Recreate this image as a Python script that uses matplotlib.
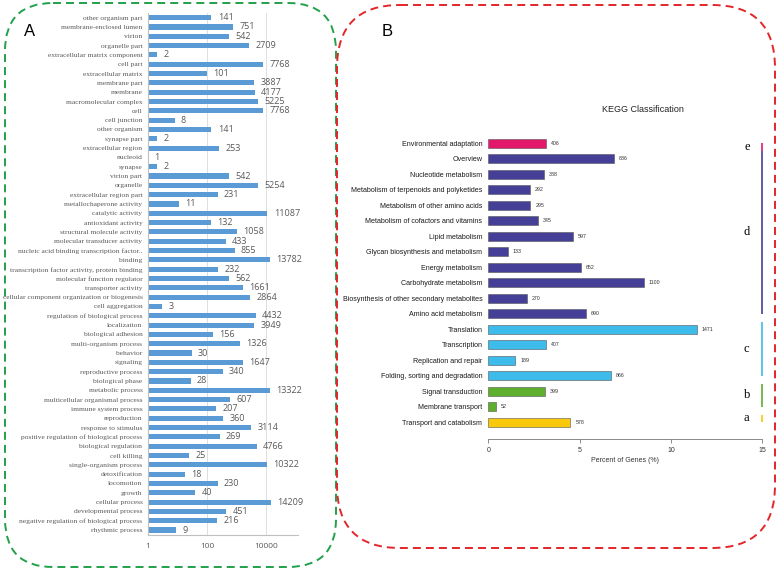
import matplotlib
matplotlib.use("Agg")
import matplotlib.pyplot as plt
import numpy as np
from matplotlib.patches import FancyBboxPatch
from matplotlib.ticker import NullLocator

# ---- Panel A: GO terms (gene counts, log axis) ----
go_terms = [
    "other organism part", "membrane-enclosed lumen", "virion", "organelle part",
    "extracellular matrix component", "cell part", "extracellular matrix", "membrane part",
    "membrane", "macromolecular complex", "cell", "cell junction", "other organism",
    "synapse part", "extracellular region", "nucleoid", "synapse", "virion part",
    "organelle", "extracellular region part", "metallochaperone activity",
    "catalytic activity", "antioxidant activity", "structural molecule activity",
    "molecular transducer activity", "nucleic acid binding transcription factor..",
    "binding", "transcription factor activity, protein binding",
    "molecular function regulator", "transporter activity",
    "cellular component organization or biogenesis", "cell aggregation",
    "regulation of biological process", "localization", "biological adhesion",
    "multi-organism process", "behavior", "signaling", "reproductive process",
    "biological phase", "metabolic process", "multicellular organismal process",
    "immune system process", "reproduction", "response to stimulus",
    "positive regulation of biological process", "biological regulation", "cell killing",
    "single-organism process", "detoxification", "locomotion", "growth",
    "cellular process", "developmental process",
    "negative regulation of biological process", "rhythmic process",
]
go_counts = [
    141, 751, 542, 2709, 2, 7768, 101, 3887, 4177, 5225, 7768, 8, 141, 2, 253, 1, 2,
    542, 5254, 231, 11, 11087, 132, 1058, 433, 855, 13782, 232, 562, 1661, 2864, 3,
    4432, 3949, 156, 1326, 30, 1647, 340, 28, 13322, 607, 207, 360, 3114, 269, 4766,
    25, 10322, 18, 230, 40, 14209, 451, 216, 9,
]
go_ticks = [1, 100, 10000]

# ---- Panel B: KEGG classification ----
kegg_terms = [
    "Environmental adaptation", "Overview", "Nucleotide metabolism",
    "Metabolism of terpenoids and polyketides", "Metabolism of other amino acids",
    "Metabolism of cofactors and vitamins", "Lipid metabolism",
    "Glycan biosynthesis and metabolism", "Energy metabolism", "Carbohydrate metabolism",
    "Biosynthesis of other secondary metabolites", "Amino acid metabolism",
    "Translation", "Transcription", "Replication and repair",
    "Folding, sorting and degradation", "Signal transduction", "Membrane transport",
    "Transport and catabolism",
]
kegg_percent = [3.16, 6.86, 3.03, 2.26, 2.30, 2.70, 4.64, 1.06, 5.06, 8.52,
                2.10, 5.36, 11.41, 3.17, 1.48, 6.72, 3.10, 0.42, 4.49]
kegg_counts = [406, 886, 388, 292, 295, 345, 597, 133, 652, 1100,
               270, 690, 1471, 407, 189, 866, 399, 52, 578]
kegg_group = ["e", "d", "d", "d", "d", "d", "d", "d", "d", "d",
              "d", "d", "c", "c", "c", "c", "b", "b", "a"]
group_letters = ["e", "d", "c", "b", "a"]
group_colors = {"e": "#E2196A", "d": "#463F98", "c": "#3DBBEA",
                "b": "#5FAE2E", "a": "#F9C80A"}

W, H = 777, 571
fig = plt.figure(figsize=(W / 100, H / 100), dpi=100)

# background overlay in pixel coordinates for the dashed frames
bg = fig.add_axes([0, 0, 1, 1], zorder=-1)
bg.set_xlim(0, W)
bg.set_ylim(H, 0)
bg.axis("off")
bg.add_patch(FancyBboxPatch((5, 3), 331, 564, boxstyle="round,pad=0,rounding_size=48",
                            fill=False, ec="#22A04B", lw=1.4, ls=(0, (4.1, 2.6))))
bg.add_patch(FancyBboxPatch((337, 5), 438, 543, boxstyle="round,pad=0,rounding_size=63",
                            fill=False, ec="#E3262A", lw=1.4, ls=(0, (4.1, 2.6))))
bg.text(30, 32, "A", fontsize=12, family="Liberation Sans", ha="center", va="center")
bg.text(387, 32, "B", fontsize=12, family="Liberation Sans", ha="center", va="center")
bg.text(643, 110, "KEGG Classification", fontsize=6.5, family="Liberation Sans",
        ha="center", va="center", color="#222222")

# ---- Panel A ----
axA = fig.add_axes([148 / W, (H - 534.7) / H, 150 / W, 521.7 / H])
yA = np.arange(len(go_terms))
axA.set_xscale("log")
axA.barh(yA, go_counts, height=0.55, color="#5B9BD5", zorder=2)
for v in (100, 10000):
    axA.axvline(v, color="#D9D9D9", lw=0.6, zorder=0)
for i, v in enumerate(go_counts):
    axA.annotate(str(v), (v, i), xytext=(4.5, 0), textcoords="offset points",
                 va="center", ha="left", fontsize=6.5, family="Open Sans", color="#595959")
axA.set_xlim(1, 1.2e5)
axA.set_ylim(len(go_terms) - 0.5, -0.5)
axA.xaxis.set_minor_locator(NullLocator())
axA.set_xticks(go_ticks)
axA.set_xticklabels([str(t) for t in go_ticks], fontsize=6, family="Open Sans", color="#595959")
axA.set_yticks(yA)
axA.set_yticklabels(go_terms, fontsize=5.4, family="Liberation Serif", color="#595959")
axA.tick_params(axis="both", length=0)
axA.tick_params(axis="x", pad=6)
axA.tick_params(axis="y", pad=4)
for s in ("top", "right"):
    axA.spines[s].set_visible(False)
for s in ("left", "bottom"):
    axA.spines[s].set_color("#BFBFBF")
    axA.spines[s].set_linewidth(0.8)
axA.patch.set_visible(False)

# ---- Panel B ----
axB = fig.add_axes([488.3 / W, (H - 439) / H, 274 / W, 311.2 / H])
yB = np.arange(len(kegg_terms))
bar_colors = [group_colors[g] for g in kegg_group]
axB.barh(yB, kegg_percent, height=0.6, color=bar_colors, edgecolor="#555555", lw=0.4)
for i, (p, c) in enumerate(zip(kegg_percent, kegg_counts)):
    axB.annotate(str(c), (p, i), xytext=(3.6, 0), textcoords="offset points",
                 va="center", ha="left", fontsize=3.8, family="Liberation Sans", color="#333333")
axB.set_xlim(0, 15)
axB.set_ylim(len(kegg_terms) + 0.08, -1)
axB.set_xticks([0, 5, 10, 15])
axB.set_xticklabels(["0", "5", "10", "15"], fontsize=5, family="Liberation Sans", color="#333333")
axB.set_yticks(yB)
axB.set_yticklabels(kegg_terms, fontsize=5.1, family="Liberation Sans", color="#1a1a1a")
axB.tick_params(axis="y", length=0, pad=4.3)
axB.tick_params(axis="x", length=3, width=0.6, color="#777777", pad=3)
axB.set_xlabel("Percent of Genes (%)", fontsize=5, family="Liberation Sans",
               color="#333333", labelpad=2)
for s in ("top", "right", "left"):
    axB.spines[s].set_visible(False)
axB.spines["bottom"].set_bounds(0, 15)
axB.spines["bottom"].set_color("#777777")
axB.spines["bottom"].set_linewidth(0.6)
axB.patch.set_visible(False)

# group brackets on the right
for k, g in enumerate(group_letters):
    rows = [i for i, gg in enumerate(kegg_group) if gg == g]
    first, last = rows[0], rows[-1]
    if k == 0:
        y0, y1 = first, first + 0.5
    else:
        y0, y1 = first - 0.5, last
    axB.plot([15, 15], [y0, y1], color=group_colors[g], lw=1.2, clip_on=False,
             solid_capstyle="butt")
    axB.text(14.15, (y0 + y1) / 2, g, fontsize=9, family="Liberation Serif",
             ha="center", va="center")

fig.savefig("out.png", dpi=100)
